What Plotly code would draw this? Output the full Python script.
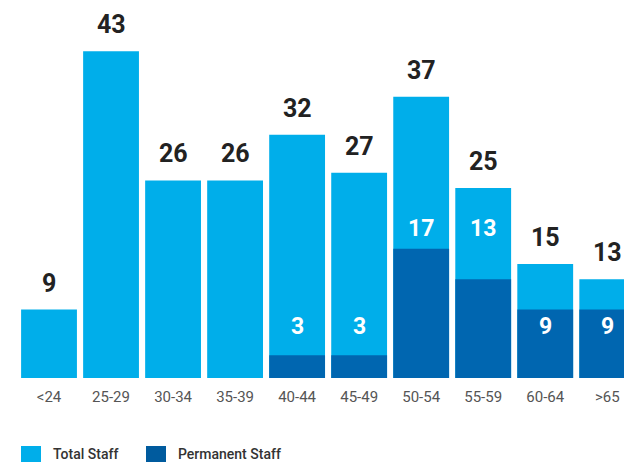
import plotly.graph_objects as go

# age bands and staff counts
age_groups = ['<24', '25-29', '30-34', '35-39', '40-44', '45-49', '50-54', '55-59', '60-64', '>65']
total_staff = [9, 43, 26, 26, 32, 27, 37, 25, 15, 13]
permanent_staff = [0, 0, 0, 0, 3, 3, 17, 13, 9, 9]

LIGHT = '#00AEEA'
DARK = '#0066B0'
px_per_unit = 7.6

fig = go.Figure()
fig.add_trace(go.Bar(x=age_groups, y=total_staff, marker_color=LIGHT, name='Total Staff',
                     marker_line_width=0, hoverinfo='x+y'))
fig.add_trace(go.Bar(x=age_groups, y=permanent_staff, marker_color=DARK, name='Permanent Staff',
                     marker_line_width=0, hoverinfo='x+y'))

# totals above bars
for a, v in zip(age_groups, total_staff):
    fig.add_annotation(x=a, y=v, text='<b>%d</b>' % v, showarrow=False, yanchor='bottom',
                       yshift=10, font=dict(size=25, color='#222', family='Roboto'))

# permanent labels in white (placed a bit up the bar for readability)
for a, v in zip(age_groups, permanent_staff):
    if v == 0:
        continue
    ylab = 19.7 if v > 10 else 6.8
    fig.add_annotation(x=a, y=ylab, text='<b>%d</b>' % v, showarrow=False, yanchor='middle',
                       font=dict(size=23, color='white', family='Roboto'))

fig.update_layout(
    width=624, height=462,
    barmode='overlay', bargap=0.1,
    plot_bgcolor='white', paper_bgcolor='white',
    margin=dict(l=18, r=0, t=0, b=84),
    showlegend=False,
    font=dict(family='Roboto'),
)

# legend drawn by hand
legend_items = [('Total Staff', LIGHT, 21, 51), ('Permanent Staff', '#005B9E', 146, 176)]
for label, col, x0, xt in legend_items:
    fig.add_shape(type='rect', xref='paper', yref='paper',
                  x0=(x0 - 18) / 606, x1=(x0 + 20 - 18) / 606,
                  y0=-(464 - 378) / 378, y1=-(446 - 378) / 378,
                  line_width=0, fillcolor=col)
    fig.add_annotation(xref='paper', yref='paper', x=(xt - 18) / 606, y=-(454 - 378) / 378,
                       text=label, showarrow=False, xanchor='left', yanchor='middle',
                       font=dict(size=14, color='#333', weight=500))

fig.update_xaxes(range=[-0.5, 9.27], showgrid=False, showline=False, ticks='',
                 ticklabelstandoff=8,
                 tickfont=dict(size=15, color='#555'), fixedrange=True)
fig.update_yaxes(range=[0, 378 / px_per_unit], visible=False, fixedrange=True)

fig.write_html('out.html', config={'displayModeBar': False},
               post_script="document.body.style.margin='0';")
